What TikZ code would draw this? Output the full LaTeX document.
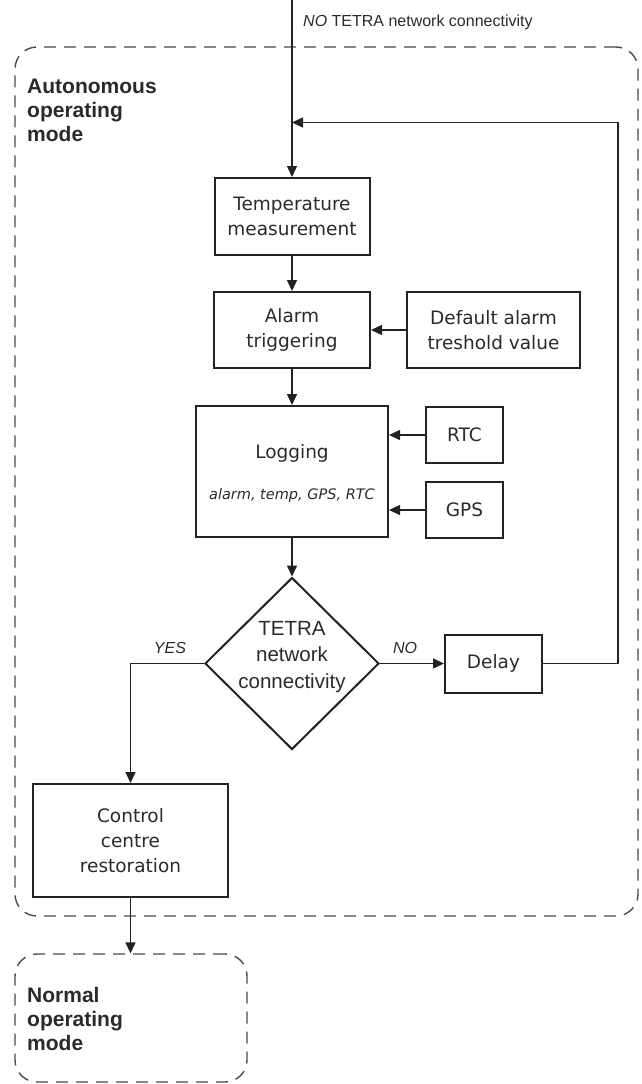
\documentclass[tikz,border=0pt]{standalone}
\usepackage{fontspec}
\setmainfont{DejaVu Sans}
\newfontfamily\arialf{Liberation Sans}
\usetikzlibrary{arrows.meta,shapes.geometric}
\definecolor{ink}{HTML}{222222}
\definecolor{txt}{HTML}{2A2A2A}
\definecolor{dashc}{HTML}{4A4A4A}
\begin{document}
\begin{tikzpicture}[x=1pt,y=-1pt,
  mode/.style={draw=dashc, dash pattern=on 12pt off 8pt, line width=1.4pt, rounded corners=22pt, inner sep=0pt},
  stepbox/.style={draw=ink, line width=2pt, inner sep=0pt, align=center, text=txt, font=\fontsize{18.5}{25}\selectfont},
  flow/.style={draw=ink, line width=1.5pt, -{Triangle[length=11pt,width=10pt]}},
  modelabel/.style={anchor=north west, inner sep=0pt, align=left, text=txt, font=\arialf\bfseries\fontsize{21}{24}\selectfont},
  branch/.style={inner sep=0pt, text=txt, font=\arialf\itshape\fontsize{16}{18}\selectfont}
]
\useasboundingbox (0,0) rectangle (641,1084);

% mode frames
\node[mode, minimum width=623pt, minimum height=869pt] (auto) at (326.5,481.5) {};
\node[mode, minimum width=232pt, minimum height=128pt] (normal) at (131,1018) {};
\node[modelabel] (autolbl) at (27,79) {Autonomous\\operating\\mode};
\node[modelabel] (normlbl) at (27,987.5) {Normal\\operating\\mode};

% top entry
\coordinate (entry) at (292,0);
\node[anchor=west, inner sep=0pt, text=txt, font=\arialf\fontsize{16}{18}\selectfont] (entrylbl) at (303,22) {\textit{NO} TETRA network connectivity};

% boxes
\node[stepbox, minimum width=155pt, minimum height=77pt] (temp) at (292,216.5) {Temperature\\measurement};
\node[stepbox, minimum width=156pt, minimum height=76pt] (alarm) at (292,330) {Alarm\\triggering};
\node[stepbox, minimum width=173pt, minimum height=76pt] (default) at (493.5,330) {Default alarm\\treshold value};
\node[stepbox, minimum width=192pt, minimum height=131pt] (logging) at (292,471.5) {};
\node[inner sep=0pt, text=txt, font=\fontsize{18.5}{22}\selectfont] (logtxt) at (292,453) {Logging};
\node[inner sep=0pt, text=txt, font=\itshape\fontsize{14.5}{17}\selectfont] (logsub) at (292,495) {alarm, temp, GPS, RTC};
\node[stepbox, minimum width=77pt, minimum height=56pt] (rtc) at (464.5,435) {RTC};
\node[stepbox, minimum width=77pt, minimum height=56pt] (gps) at (464.5,510) {GPS};
\node[draw=ink, line width=2pt, diamond, minimum width=174pt, minimum height=172pt, inner sep=0pt] (dec) at (292,663.5) {};
\node[inner sep=0pt, align=center, text=txt, font=\arialf\fontsize{20.5}{26.5}\selectfont] (dectxt) at (292,657) {TETRA\\network\\connectivity};
\node[stepbox, minimum width=97pt, minimum height=58pt] (delay) at (493.5,663.5) {Delay};
\node[stepbox, minimum width=195pt, minimum height=113pt] (control) at (130.5,840.5) {Control\\centre\\restoration};

% connectors
\draw[flow] (entry) -- (temp.north);
\draw[flow] (temp.south) -- (alarm.north);
\draw[flow] (default.west) -- (alarm.east);
\draw[flow] (alarm.south) -- (logging.north);
\draw[flow] (rtc.west) -- (rtc.west -| logging.east);
\draw[flow] (gps.west) -- (gps.west -| logging.east);
\draw[flow] (logging.south) -- (dec.north);
\draw[flow] (dec.east) -- (delay.west);
\coordinate (fbr) at (618,663.5);
\coordinate (fbt) at (618,122.5);
\coordinate (fbend) at (292,122.5);
\draw[flow] (delay.east) -- (fbr) -- (fbt) -- (fbend);
\coordinate (yesc) at (130.5,663.5);
\draw[flow] (dec.west) -- (yesc) -- (control.north);
\draw[flow] (control.south) -- (normal.north -| control.south);

% branch labels
\node[branch] (yes) at (170,648) {YES};
\node[branch] (no) at (405,648) {NO};
\end{tikzpicture}
\end{document}
